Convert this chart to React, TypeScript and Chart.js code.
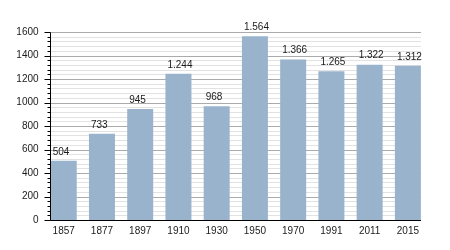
import React, { useEffect, useRef } from 'react';
import { Chart, registerables } from 'chart.js';

Chart.register(...registerables);

const years = ['1857', '1877', '1897', '1910', '1930', '1950', '1970', '1991', '2011', '2015'];
const population = [504, 733, 945, 1244, 968, 1564, 1366, 1265, 1322, 1312];
const yMin = 0;
const yMax = 1600;
const majorStep = 200;
const minorStep = 40;

const FONT = '"Liberation Sans", Arial, sans-serif';
const BAR_COLOR = '#99b3cc';

const fmt = (v: number) => String(v).replace(/\B(?=(\d{3})+(?!\d))/g, '.');

const timelinePlugin = {
  id: 'timelineGrid',
  beforeDatasetsDraw(chart: any) {
    const { ctx, scales } = chart;
    const y = scales.y;
    const bars = chart.getDatasetMeta(0).data;
    const first = bars[0];
    const last = bars[bars.length - 1];
    const xl = Math.round(first.x - first.width / 2) - 1;
    const xr = Math.round(last.x + last.width / 2);
    ctx.save();
    ctx.lineWidth = 1;
    for (let v = yMin; v <= yMax; v += minorStep) {
      const py = Math.round(y.getPixelForValue(v)) + 0.5;
      ctx.strokeStyle = v % majorStep === 0 ? '#ababab' : '#e2e2e2';
      ctx.beginPath();
      ctx.moveTo(xl, py);
      ctx.lineTo(xr, py);
      ctx.stroke();
    }
    ctx.restore();
  },
  afterDatasetsDraw(chart: any) {
    const { ctx, scales } = chart;
    const y = scales.y;
    const bars = chart.getDatasetMeta(0).data;
    const first = bars[0];
    const last = bars[bars.length - 1];
    const ax = Math.round(first.x - first.width / 2) - 0.5;
    const xr = Math.round(last.x + last.width / 2);
    const yTop = Math.round(y.getPixelForValue(yMax)) + 0.5;
    const yBot = Math.round(y.getPixelForValue(yMin)) + 0.5;
    ctx.save();
    ctx.strokeStyle = '#000';
    ctx.lineWidth = 1;
    ctx.beginPath();
    ctx.moveTo(ax, yTop);
    ctx.lineTo(ax, yBot);
    ctx.stroke();
    for (let v = yMin; v <= yMax; v += minorStep) {
      const py = Math.round(y.getPixelForValue(v)) + 0.5;
      const len = v % majorStep === 0 ? 6 : 3;
      ctx.beginPath();
      ctx.moveTo(ax - len, py);
      ctx.lineTo(ax, py);
      ctx.stroke();
    }
    ctx.beginPath();
    ctx.moveTo(ax, yBot);
    ctx.lineTo(xr, yBot);
    ctx.stroke();
    ctx.fillStyle = '#1a1a1a';
    ctx.font = `10px ${FONT}`;
    ctx.textAlign = 'left';
    ctx.textBaseline = 'middle';
    bars.forEach((bar: any, i: number) => {
      ctx.fillText(fmt(population[i]), bar.x - 11, bar.y - 9);
    });
    ctx.restore();
  },
};

export default function App() {
  const canvasRef = useRef<HTMLCanvasElement>(null);

  useEffect(() => {
    document.body.style.margin = '0';
    const canvas = canvasRef.current;
    if (!canvas) return;
    const chart = new Chart(canvas, {
      type: 'bar',
      data: {
        labels: years,
        datasets: [
          {
            data: population,
            backgroundColor: BAR_COLOR,
            borderWidth: 0,
            barPercentage: 0.68,
            categoryPercentage: 1,
          },
        ],
      },
      options: {
        responsive: false,
        animation: false,
        devicePixelRatio: 1,
        layout: { padding: { top: 32, right: 23, left: 0, bottom: 0 } },
        plugins: {
          legend: { display: false },
          tooltip: { enabled: false },
          title: { display: false },
        },
        scales: {
          x: {
            grid: { display: false, drawTicks: false },
            border: { display: false },
            ticks: {
              color: '#1a1a1a',
              font: { family: FONT, size: 10 },
              padding: 5,
              maxRotation: 0,
              autoSkip: false,
            },
            afterFit: (scale: any) => {
              scale.height = 30;
            },
          },
          y: {
            min: yMin,
            max: yMax,
            grid: { display: false, drawTicks: false },
            border: { display: false },
            ticks: {
              stepSize: majorStep,
              color: '#1a1a1a',
              font: { family: FONT, size: 10 },
              padding: 6,
              autoSkip: false,
              callback: (v: any) => String(v),
            },
            afterFit: (scale: any) => {
              scale.width = 44.6;
            },
          },
        },
      },
      plugins: [timelinePlugin],
    });
    return () => chart.destroy();
  }, []);

  return (
    <div style={{ width: 450, height: 250 }}>
      <canvas ref={canvasRef} width={450} height={250} style={{ display: 'block' }} />
    </div>
  );
}
